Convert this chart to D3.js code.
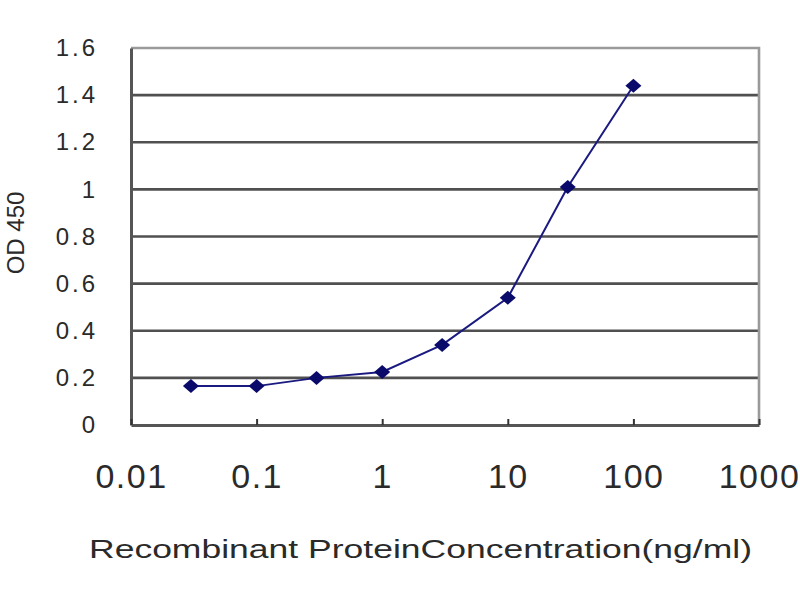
<!DOCTYPE html>
<html>
<head>
<meta charset="utf-8">
<script src="https://cdn.jsdelivr.net/npm/d3@7"></script>
<style>
  body { margin: 0; background: #fff; }
  svg { font-family: "Liberation Sans", Arial, sans-serif; }
</style>
</head>
<body>
<svg width="800" height="600"></svg>
<script>
// ELISA standard curve: OD 450 vs recombinant protein concentration

// data
var concentrations = [0.03, 0.1, 0.3, 1, 3, 10, 30, 100];
var odValues = [0.165, 0.165, 0.2, 0.225, 0.34, 0.54, 1.01, 1.44];
var xTicks = [0.01, 0.1, 1, 10, 100, 1000];
var yTicks = [0, 0.2, 0.4, 0.6, 0.8, 1, 1.2, 1.4, 1.6];

var svg = d3.select('svg');

// plot box (note: "top" is taken by window, so prefix these)
var plotLeft = 131, plotRight = 759, plotTop = 48, plotBottom = 425;

var xScale = d3.scaleLog()
    .domain([0.01, 1000])
    .range([plotLeft, plotRight]);

var yScale = d3.scaleLinear()
    .domain([0, 1.6])
    .range([plotBottom, plotTop]);

// plot background
svg.append('rect')
    .attr('x', plotLeft).attr('y', plotTop)
    .attr('width', plotRight - plotLeft).attr('height', plotBottom - plotTop)
    .attr('fill', '#fff');

// horizontal gridlines (skip 0 and top)
svg.append('g')
    .selectAll('line')
    .data(yTicks.filter(function (d) { return d > 0 && d < 1.6; }))
    .enter()
    .append('line')
    .attr('x1', plotLeft).attr('x2', plotRight)
    .attr('y1', function (d) { return yScale(d); })
    .attr('y2', function (d) { return yScale(d); })
    .attr('stroke', '#505050')
    .attr('stroke-width', 2.6);

// top + right border, lighter
svg.append('path')
    .attr('d', 'M' + plotLeft + ',' + plotTop + 'H' + plotRight + 'V' + plotBottom)
    .attr('fill', 'none')
    .attr('stroke', '#9a9a9a')
    .attr('stroke-width', 2.6);

// y axis
var yAxis = d3.axisLeft(yScale)
    .tickValues(yTicks)
    .tickSize(0)
    .tickPadding(33)
    .tickFormat(function (d) { return d3.format('~g')(d); });

var gy = svg.append('g')
    .attr('transform', 'translate(' + plotLeft + ',0)')
    .call(yAxis);
gy.select('.domain').attr('stroke', '#555').attr('stroke-width', 3);
gy.selectAll('text')
    .attr('font-size', 24)
    .attr('letter-spacing', 3)
    .attr('fill', '#2a2a2a');

// x axis, ticks pointing inward
var xAxis = d3.axisBottom(xScale)
    .tickValues(xTicks)
    .tickSizeInner(-6)
    .tickSizeOuter(0)
    .tickPadding(39)
    .tickFormat(function (d) { return d3.format('~g')(d); });

var gx = svg.append('g')
    .attr('transform', 'translate(0,' + plotBottom + ')')
    .call(xAxis);
gx.select('.domain').attr('stroke', '#555').attr('stroke-width', 3);
gx.selectAll('.tick line').attr('stroke', '#333').attr('stroke-width', 2);
gx.selectAll('text')
    .attr('font-size', 34)
    .attr('letter-spacing', 1.5)
    .attr('fill', '#2a2a2a');

// curve
var line = d3.line()
    .x(function (d) { return xScale(d[0]); })
    .y(function (d) { return yScale(d[1]); });

var points = d3.zip(concentrations, odValues);

svg.append('path')
    .datum(points)
    .attr('d', line)
    .attr('fill', 'none')
    .attr('stroke', '#1a1a80')
    .attr('stroke-width', 2);

// diamond markers
svg.append('g')
    .selectAll('path')
    .data(points)
    .enter()
    .append('path')
    .attr('transform', function (d) {
        return 'translate(' + xScale(d[0]) + ',' + yScale(d[1]) + ')';
    })
    .attr('d', 'M0,-7L8,0L0,7L-8,0Z')
    .attr('fill', '#0a0a6a');

// axis titles
svg.append('text')
    .attr('x', 89)
    .attr('y', 558)
    .attr('font-size', 26)
    .attr('fill', '#2a2a2a')
    .attr('textLength', 663)
    .attr('lengthAdjust', 'spacingAndGlyphs')
    .text('Recombinant ProteinConcentration(ng/ml)');

svg.append('text')
    .attr('transform', 'translate(24,233) rotate(-90)')
    .attr('text-anchor', 'middle')
    .attr('font-size', 24)
    .attr('fill', '#2a2a2a')
    .text('OD 450');
</script>
</body>
</html>
